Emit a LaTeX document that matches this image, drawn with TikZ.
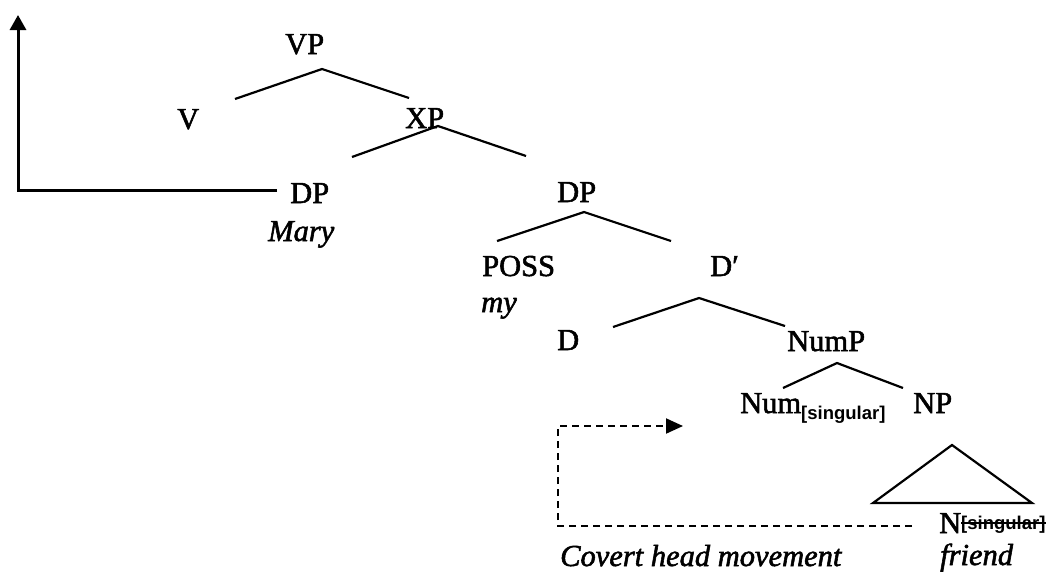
\documentclass[tikz,border=0pt]{standalone}
\usepackage{fontspec}
\setmainfont{Liberation Serif}[FakeBold=1.8]
\newfontfamily\subfont{Liberation Sans}
\usetikzlibrary{positioning, arrows.meta}

\newsavebox{\strikebox}
\newcommand{\featsub}[1]{\raisebox{-6pt}{\fontsize{18.5}{18}\subfont\bfseries #1}}
\newcommand{\deadsub}[1]{\raisebox{4pt}{\fontsize{18.5}{18}\subfont\bfseries%
  \sbox{\strikebox}{#1}\rlap{\rule[5pt]{\wd\strikebox}{1.6pt}}\usebox{\strikebox}}}

\begin{document}
\begin{tikzpicture}[
  x=1pt, y=-1pt,
  cat/.style={font=\fontsize{30.5}{36}\selectfont, inner sep=0pt, anchor=base west},
  word/.style={cat, font=\fontsize{30.5}{36}\selectfont\itshape},
  branch/.style={line width=2.2pt},
  movearrow/.style={line width=3pt, -{Triangle[length=15pt, width=16pt]}},
  covert/.style={line width=2pt, dash pattern=on 7pt off 5pt,
                 -{Triangle[length=17pt, width=15pt]}},
]
  \useasboundingbox (0,0) rectangle (1048,574);

  % Category labels
  \node[cat] (vp)   at (285,54)  {VP};
  \node[cat] (v)    at (177,129) {V};
  \node[cat] (xp)   at (405,128) {XP};
  \node[cat] (dp1)  at (290,203) {DP};
  \node[cat] (dp2)  at (557,202) {DP};
  \node[cat] (poss) at (482,276) {POSS};
  \node[cat] (dbar) at (710,276) {D′};
  \node[cat] (d)    at (557,350) {D};
  \node[cat] (nump) at (787,351) {NumP};
  \node[cat] (num)  at (740,413) {Num\featsub{[singular]}};
  \node[cat] (np)   at (913,413) {NP};
  \node[cat] (n)    at (939,533) {N\deadsub{[singular]}};

  % Words
  \node[word] (mary)   at (268,241) {Mary};
  \node[word] (my)     at (481,312) {my};
  \node[word] (friend) at (940,565) {friend};
  \node[word] (covlbl) at (560,566) {Covert head movement};

  % Branch points
  \coordinate (vp-a)   at (322,69);
  \coordinate (v-up)   at (235,99);
  \coordinate (xp-up)  at (409,98);
  \coordinate (xp-a)   at (438,126);
  \coordinate (dp1-up) at (352,157);
  \coordinate (dp2-up) at (526,156);
  \coordinate (dp2-a)  at (584,212);
  \coordinate (poss-up) at (497,241);
  \coordinate (dbar-up) at (671,241);
  \coordinate (dbar-a) at (699,298);
  \coordinate (d-up)   at (613,327);
  \coordinate (nump-up) at (785,326);
  \coordinate (nump-a) at (837,363);
  \coordinate (num-up) at (783,388);
  \coordinate (np-up)  at (903,388);
  \coordinate (np-a)   at (952,445);
  \coordinate (tri-l)  at (873,503);
  \coordinate (tri-r)  at (1032,503);

  \draw[branch] (v-up) -- (vp-a) -- (xp-up);
  \draw[branch] (dp1-up) -- (xp-a) -- (dp2-up);
  \draw[branch] (poss-up) -- (dp2-a) -- (dbar-up);
  \draw[branch] (d-up) -- (dbar-a) -- (nump-up);
  \draw[branch] (num-up) -- (nump-a) -- (np-up);
  \draw[branch] (np-a) -- (tri-l) -- (tri-r) -- cycle;

  % Movement of Mary
  \coordinate (mary-out) at (277,190);
  \coordinate (mary-bend) at (18,190);
  \coordinate (mary-top) at (18,15);
  \draw[movearrow] (mary-out) -- (mary-bend) -- (mary-top);

  % Covert head movement
  \coordinate (n-out) at (912,526);
  \coordinate (cov-bend) at (558,526);
  \coordinate (num-in) at (683,426);
  \draw[covert] (n-out) -- (cov-bend) |- (num-in);
\end{tikzpicture}
\end{document}
